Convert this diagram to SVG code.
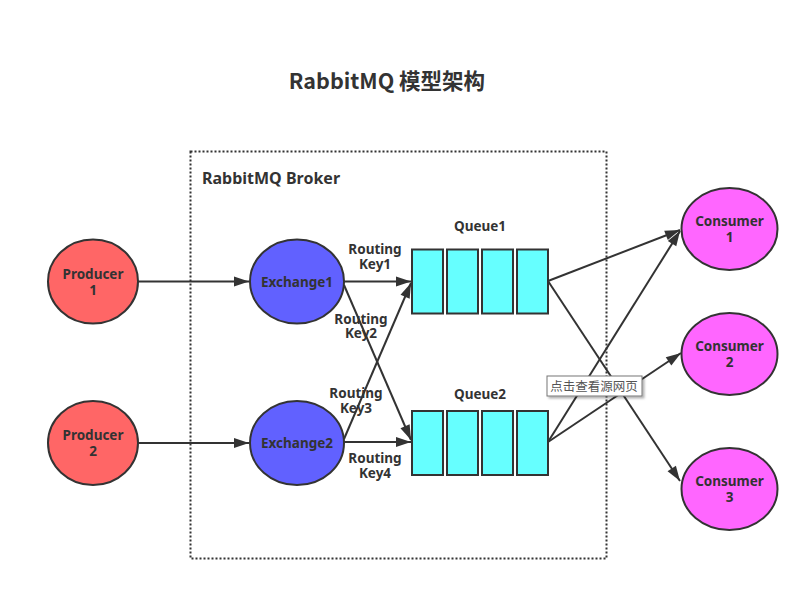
<svg xmlns="http://www.w3.org/2000/svg" width="808" height="590" viewBox="0 0 808 590">
<defs>
<marker id="arr" viewBox="0 0 15 10" refX="15" refY="5" markerWidth="15" markerHeight="10" markerUnits="userSpaceOnUse" orient="auto" overflow="visible">
<path d="M0,0 L15,5 L0,10 z" fill="#333"/>
</marker>
<filter id="sh" x="-10%" y="-20%" width="130%" height="160%">
<feDropShadow dx="2" dy="2" stdDeviation="1.2" flood-color="#000" flood-opacity="0.3"/>
</filter>
</defs>
<style>
text{font-family:"Noto Sans","Noto Sans CJK SC",sans-serif;font-weight:bold;fill:#333;text-anchor:middle}
.n{stroke:#333;stroke-width:2}
.p{fill:#ff6666}.e{fill:#6161ff}.q{fill:#66ffff}.c{fill:#ff66ff}
.l{font-size:13.5px}
.c1 line{stroke:#333;stroke-width:2;fill:none}
</style>
<rect width="808" height="590" fill="#fff"/>
<text x="387" y="89" style="font-size:21.5px;font-family:'Noto Sans CJK SC','Noto Sans',sans-serif">RabbitMQ 模型架构</text>
<g id="broker">
<rect x="190.5" y="151.5" width="416" height="407" fill="none" stroke="#333" stroke-width="2" stroke-dasharray="2,2"/>
<text x="202" y="184" style="font-size:16px;text-anchor:start">RabbitMQ Broker</text>
</g>
<g id="producer1"><ellipse class="n p" cx="93" cy="281.5" rx="45" ry="42"/><text class="l" x="93" y="279"><tspan x="93">Producer</tspan><tspan x="93" dy="16">1</tspan></text></g>
<g id="producer2"><ellipse class="n p" cx="93" cy="443" rx="45" ry="42"/><text class="l" x="93" y="440"><tspan x="93">Producer</tspan><tspan x="93" dy="16">2</tspan></text></g>
<g id="exchange1"><ellipse class="n e" cx="297" cy="281.5" rx="47" ry="42"/><text class="l" x="297" y="287">Exchange1</text></g>
<g id="exchange2"><ellipse class="n e" cx="297" cy="443" rx="47" ry="42"/><text class="l" x="297" y="448">Exchange2</text></g>
<g id="queue1">
<text class="l" x="480" y="231">Queue1</text>
<rect class="n q" x="412" y="249.5" width="31" height="64"/>
<rect class="n q" x="447" y="249.5" width="31" height="64"/>
<rect class="n q" x="482" y="249.5" width="31" height="64"/>
<rect class="n q" x="517" y="249.5" width="31" height="64"/>
</g>
<g id="queue2">
<text class="l" x="480" y="399">Queue2</text>
<rect class="n q" x="412" y="411" width="31" height="64"/>
<rect class="n q" x="447" y="411" width="31" height="64"/>
<rect class="n q" x="482" y="411" width="31" height="64"/>
<rect class="n q" x="517" y="411" width="31" height="64"/>
</g>
<g id="consumer1"><ellipse class="n c" cx="729.5" cy="229" rx="48" ry="41"/><text class="l" x="729.5" y="226"><tspan x="729.5">Consumer</tspan><tspan x="729.5" dy="16">1</tspan></text></g>
<g id="consumer2"><ellipse class="n c" cx="729.5" cy="354" rx="48" ry="41"/><text class="l" x="729.5" y="351"><tspan x="729.5">Consumer</tspan><tspan x="729.5" dy="16">2</tspan></text></g>
<g id="consumer3"><ellipse class="n c" cx="729.5" cy="489" rx="48" ry="41"/><text class="l" x="729.5" y="486"><tspan x="729.5">Consumer</tspan><tspan x="729.5" dy="16">3</tspan></text></g>
<g id="connectors" class="c1">
<line x1="138" y1="281.5" x2="249" y2="281.5" marker-end="url(#arr)"/>
<line x1="138" y1="443" x2="249" y2="443" marker-end="url(#arr)"/>
<line x1="344" y1="281.5" x2="411" y2="281.5" marker-end="url(#arr)"/>
<line x1="344" y1="285" x2="411" y2="440" marker-end="url(#arr)"/>
<line x1="344" y1="439" x2="411" y2="283" marker-end="url(#arr)"/>
<line x1="344" y1="442" x2="411" y2="442" marker-end="url(#arr)"/>
<line x1="548" y1="281" x2="680" y2="230" marker-end="url(#arr)"/>
<line x1="548" y1="281" x2="680" y2="481" marker-end="url(#arr)"/>
<line x1="548" y1="442" x2="680" y2="231" marker-end="url(#arr)"/>
<line x1="548" y1="442" x2="681" y2="353" marker-end="url(#arr)"/>
</g>
<g id="labels">
<text class="l" x="375" y="254"><tspan x="375">Routing</tspan><tspan x="375" dy="15">Key1</tspan></text>
<text class="l" x="361" y="324"><tspan x="361">Routing</tspan><tspan x="361" dy="14">Key2</tspan></text>
<text class="l" x="356" y="398"><tspan x="356">Routing</tspan><tspan x="356" dy="15">Key3</tspan></text>
<text class="l" x="375" y="463"><tspan x="375">Routing</tspan><tspan x="375" dy="15">Key4</tspan></text>
</g>
<g id="tooltip">
<rect x="547" y="376" width="95" height="20" fill="#fff" stroke="#767676" stroke-width="1" filter="url(#sh)"/>
<text x="594" y="391" style="font-size:12.5px;font-weight:normal;fill:#555;font-family:'Noto Sans CJK SC',sans-serif">点击查看源网页</text>
</g>
</svg>
